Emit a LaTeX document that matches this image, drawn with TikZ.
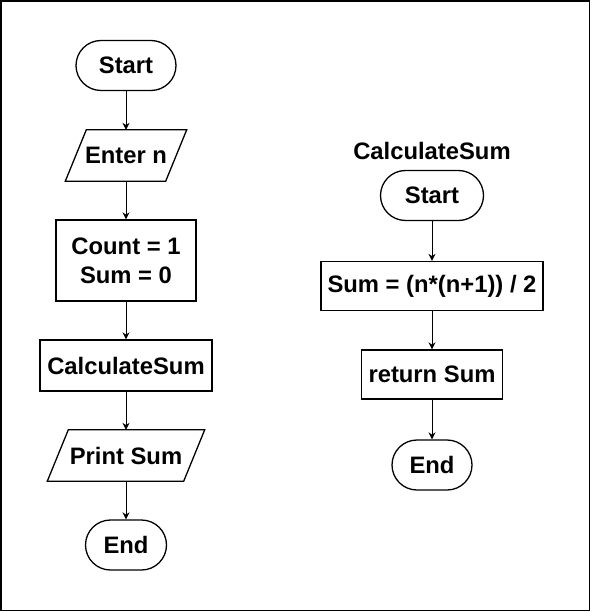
\documentclass[tikz,border=0pt]{standalone}
\usepackage{fontspec}
\setmainfont{Liberation Sans}
\usetikzlibrary{arrows.meta}
\begin{document}
\begin{tikzpicture}[x=1pt,y=-1pt,
  every node/.style={font=\fontsize{23.8}{28.7}\selectfont\bfseries, align=center, inner sep=0pt},
  term/.style={draw, line width=1.3pt, rounded corners=25pt, minimum height=50pt},
  proc/.style={draw, line width=1.3pt},
  iobox/.style={draw=none, minimum height=51pt},
  shp/.style={line width=1.3pt, line join=miter},
  arr/.style={line width=0.9pt, -{Stealth[length=7pt,width=7pt]}}
]
\useasboundingbox (0,0) rectangle (591,612);
\draw[line width=1.6pt] (1,1) rectangle (589.5,610.5);

% left column
\node[term, minimum width=100pt] (s1) at (126,65.5) {Start};
\node[iobox, minimum width=121pt] (in) at (126,155.5) {Enter n};
\draw[shp] ([xshift=21pt]in.north west) -- (in.north east) -- ([xshift=-21pt]in.south east) -- (in.south west) -- cycle;
\node[proc, minimum width=140pt, minimum height=81pt] (init) at (126,260.5) {Count = 1\\Sum = 0};
\node[proc, minimum width=172pt, minimum height=51pt] (call) at (126,365.5) {CalculateSum};
\node[iobox, minimum width=157pt] (pr) at (126,455.5) {Print Sum};
\draw[shp] ([xshift=21pt]pr.north west) -- (pr.north east) -- ([xshift=-21pt]pr.south east) -- (pr.south west) -- cycle;
\node[term, minimum width=81pt] (e1) at (126,545) {End};

\draw[arr] (s1) -- (in);
\draw[arr] (in) -- (init);
\draw[arr] (init) -- (call);
\draw[arr] (call) -- (pr);
\draw[arr] (pr) -- (e1);

% right column
\node (title) at (432,151) {CalculateSum};
\node[term, minimum width=103pt] (s2) at (432,195.5) {Start};
\node[proc, minimum width=222pt, minimum height=49pt] (calc) at (432,286) {Sum = (n*(n+1)) / 2};
\node[proc, minimum width=141pt, minimum height=49pt] (ret) at (432,374.5) {return Sum};
\node[term, minimum width=80pt] (e2) at (432,465) {End};

\draw[arr] (s2) -- (calc);
\draw[arr] (calc) -- (ret);
\draw[arr] (ret) -- (e2);
\end{tikzpicture}
\end{document}
